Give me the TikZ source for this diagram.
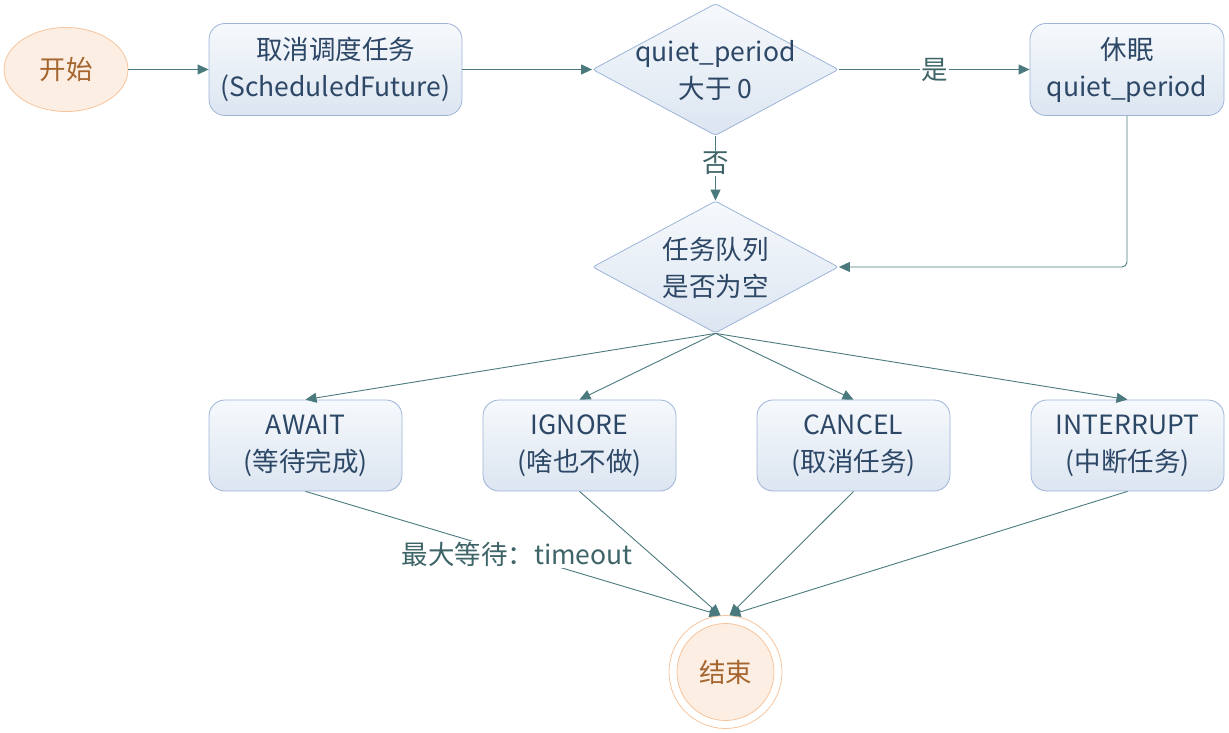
\documentclass[tikz,border=0pt]{standalone}
\usepackage{fontspec}
\setmainfont{Noto Sans CJK SC}
\usetikzlibrary{shapes.geometric,arrows.meta}
\definecolor{boxborder}{HTML}{9DB4D8}
\definecolor{boxtop}{HTML}{F6F9FC}
\definecolor{boxbot}{HTML}{DCE5F1}
\definecolor{boxtext}{HTML}{2D4766}
\definecolor{linec}{HTML}{4B7A7E}
\definecolor{labc}{HTML}{3E6468}
\definecolor{sfill}{HTML}{FDEEE3}
\definecolor{sborder}{HTML}{F6C49C}
\definecolor{stext}{HTML}{A5652F}
\newcommand{\fsz}{\fontsize{26.5pt}{37pt}\selectfont}
\tikzset{
  box/.style={rectangle, rounded corners=16pt, draw=boxborder, line width=0.8pt,
    top color=boxtop, bottom color=boxbot, text=boxtext, align=center,
    inner sep=0pt, font=\fsz},
  dia/.style={diamond, draw=boxborder, line width=0.8pt, rounded corners=3pt,
    top color=boxtop, bottom color=boxbot, inner sep=0pt,
    minimum width=246pt, minimum height=132pt},
  diatxt/.style={text=boxtext, align=center, inner sep=0pt, font=\fsz},
  term/.style={fill=sfill, draw=sborder, line width=0.8pt, text=stext, font=\fsz, inner sep=0pt},
  arr/.style={draw=linec, line width=0.9pt, -{Triangle[length=11pt,width=10pt]}, color=linec},
  lab/.style={fill=white, text=labc, font=\fsz, inner sep=1pt}
}
\begin{document}
\begin{tikzpicture}[x=1pt,y=-1pt]
\useasboundingbox (0,0) rectangle (1229,733);
% nodes
\node[term, ellipse, minimum width=124pt, minimum height=84pt] (start) at (66,69.5) {开始};
\node[box, minimum width=253pt, minimum height=92pt] (b1) at (335.5,69.5) {取消调度任务\\(ScheduledFuture)};
\node[dia] (d1) at (715.5,69.5) {};
\node[diatxt] (d1t) at (715.5,70) {quiet\_period\\大于 0};
\node[box, minimum width=194pt, minimum height=92pt] (b2) at (1127,69.5) {休眠\\quiet\_period};
\node[dia] (d2) at (715.5,267) {};
\node[diatxt] (d2t) at (715.5,268) {任务队列\\是否为空};
\node[box, minimum width=193pt, minimum height=91pt] (aw) at (305.5,445.5) {AWAIT\\(等待完成)};
\node[box, minimum width=193pt, minimum height=91pt] (ig) at (579.5,445.5) {IGNORE\\(啥也不做)};
\node[box, minimum width=193pt, minimum height=91pt] (ca) at (853.5,445.5) {CANCEL\\(取消任务)};
\node[box, minimum width=193pt, minimum height=91pt] (in) at (1127.5,445.5) {INTERRUPT\\(中断任务)};
\node[circle, draw=sborder, line width=0.8pt, minimum size=113pt, inner sep=0pt] (end) at (725.5,672) {};
\node[term, circle, minimum size=97pt] (endin) at (725.5,672) {结束};
% connectors
\draw[arr] (start.east) -- (b1.west);
\draw[arr] (b1.east) -- (d1.west);
\draw[arr] (d1.east) -- node[lab] (lyes) {是} (b2.west);
\draw[arr] (d1.south) -- node[lab, pos=0.42] (lno) {否} (d2.north);
\draw[arr, rounded corners=5pt] (b2.south) |- (d2.east);
\draw[arr] (d2.south) -- (aw.north);
\draw[arr] (d2.south) -- (ig.north);
\draw[arr] (d2.south) -- (ca.north);
\draw[arr] (d2.south) -- (in.north);
\draw[arr] (aw.south) -- node[lab, pos=0.51] (lwait) {最大等待：timeout} (end.95);
\draw[arr] (ig.south) -- (end.95);
\draw[arr] (ca.south) -- (end.86.5);
\draw[arr] (in.south) -- (end.86.5);
\end{tikzpicture}
\end{document}
